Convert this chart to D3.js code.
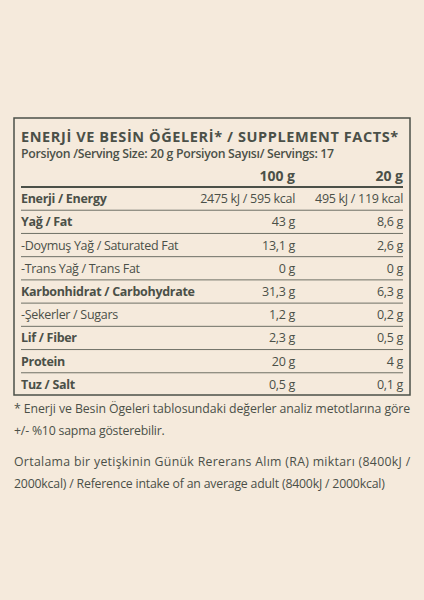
<!DOCTYPE html>
<html><head><meta charset="utf-8">
<script src="https://cdn.jsdelivr.net/npm/d3@7"></script>
<style>body{margin:0;background:#f5eadc;}</style>
</head><body>
<svg id="c" width="424" height="600"></svg>
<script>
var labels = ["Enerji / Energy", "Yağ / Fat", "-Doymuş Yağ / Saturated Fat", "-Trans Yağ / Trans Fat", "Karbonhidrat / Carbohydrate", "-Şekerler / Sugars", "Lif / Fiber", "Protein", "Tuz / Salt"];
var boldRows = [true, true, false, false, true, false, true, true, true];
var per100 = ["2475 kJ / 595 kcal", "43 g", "13,1 g", "0 g", "31,3 g", "1,2 g", "2,3 g", "20 g", "0,5 g"];
var per20 = ["495 kJ / 119 kcal", "8,6 g", "2,6 g", "0 g", "6,3 g", "0,2 g", "0,5 g", "4 g", "0,1 g"];
var columns = ["100 g", "20 g"];

var svg = d3.select("#c");
var ink = "#4b5048";
var font = "'Open Sans', 'Noto Sans', sans-serif";
svg.append("rect").attr("width", 424).attr("height", 600).attr("fill", "#f5eadc");
svg.append("rect").attr("x", 14).attr("y", 118).attr("width", 396).attr("height", 277)
  .attr("fill", "none").attr("stroke", ink).attr("stroke-width", 1.5);

svg.append("text").attr("x", 21).attr("y", 142).attr("fill", ink).attr("font-family", font)
  .attr("font-weight", "bold").attr("font-size", 14.5).attr("letter-spacing", 0.6)
  .text("ENERJİ VE BESİN ÖĞELERİ* / SUPPLEMENT FACTS*");
svg.append("text").attr("x", 21).attr("y", 158).attr("fill", ink).attr("font-family", font)
  .attr("font-weight", 600).attr("font-size", 12.3).attr("letter-spacing", -0.3)
  .text("Porsiyon /Serving Size: 20 g Porsiyon Sayısı/ Servings: 17");

var colX = [295, 403];
columns.forEach(function (c, i) {
  svg.append("text").attr("x", colX[i]).attr("y", 181).attr("text-anchor", "end")
    .attr("fill", ink).attr("font-family", font).attr("font-weight", "bold").attr("font-size", 14).text(c);
});
svg.append("line").attr("x1", 21).attr("x2", 403).attr("y1", 187).attr("y2", 187)
  .attr("stroke", ink).attr("stroke-width", 2);

var y = d3.scaleBand().domain(d3.range(labels.length)).range([187, 396]);
labels.forEach(function (l, i) {
  var yb = y(i) + y.bandwidth() / 2 + 4.5;
  svg.append("text").attr("x", 21).attr("y", yb).attr("fill", ink).attr("font-family", font)
    .attr("font-size", 12.5).attr("font-weight", boldRows[i] ? "bold" : "normal")
    .attr("letter-spacing", -0.3).text(l);
  [per100[i], per20[i]].forEach(function (v, j) {
    svg.append("text").attr("x", colX[j]).attr("y", yb).attr("text-anchor", "end")
      .attr("fill", ink).attr("font-family", font).attr("font-size", 12.5)
      .attr("letter-spacing", -0.3).text(v);
  });
  if (i > 0) {
    svg.append("line").attr("x1", 21).attr("x2", 403).attr("y1", y(i)).attr("y2", y(i))
      .attr("stroke", ink).attr("stroke-width", 0.8);
  }
});

var notes = [
  [413, "* Enerji ve Besin Ögeleri tablosundaki değerler analiz metotlarına göre"],
  [435, "+/- %10 sapma gösterebilir."],
  [466, "Ortalama bir yetişkinin Günük Rererans Alım (RA) miktarı (8400kJ /"],
  [488, "2000kcal) / Reference intake of an average adult (8400kJ / 2000kcal)"]
];
notes.forEach(function (n, i) {
  var t = svg.append("text").attr("x", 14).attr("y", n[0]).attr("fill", ink)
    .attr("font-family", font).attr("font-size", 12.3).attr("letter-spacing", -0.2).text(n[1]);
  if (i === 0 || i === 2) t.attr("textLength", 396).attr("lengthAdjust", "spacing");
});
</script>
</body></html>
